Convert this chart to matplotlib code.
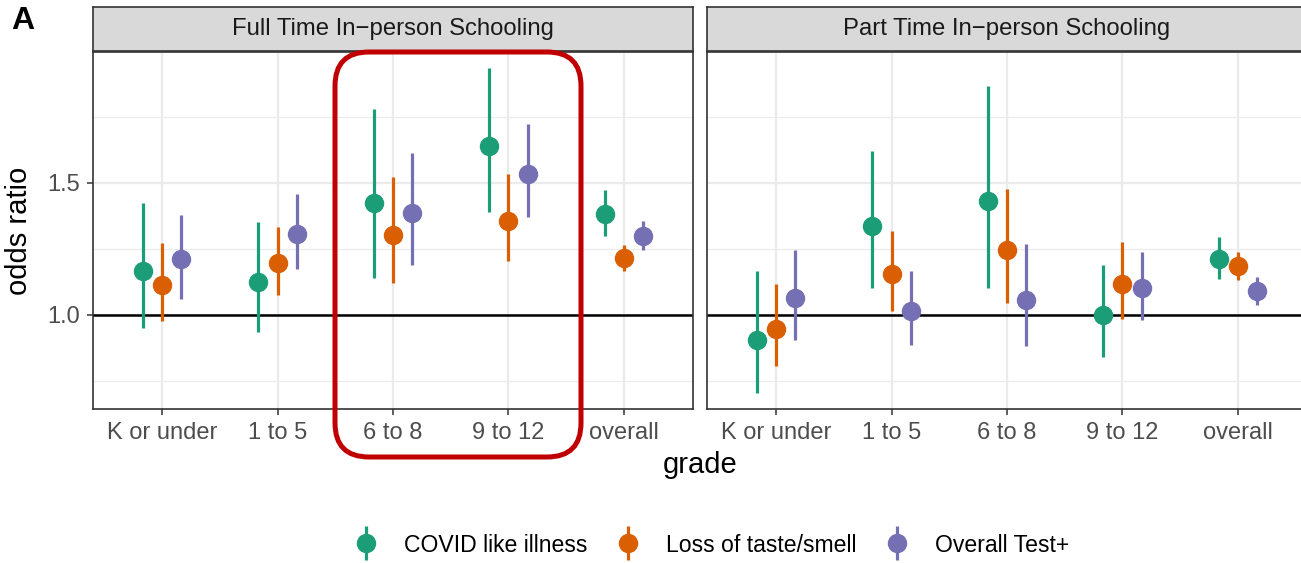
import numpy as np
import matplotlib.pyplot as plt
from matplotlib.patches import FancyBboxPatch
from matplotlib.container import ErrorbarContainer
from matplotlib.legend_handler import HandlerErrorbar

plt.rcParams['font.family'] = ['Liberation Sans', 'DejaVu Sans']

grades = ["K or under", "1 to 5", "6 to 8", "9 to 12", "overall"]
outcomes = ["COVID like illness", "Loss of taste/smell", "Overall Test+"]
panels = ["Full Time In\u2212person Schooling", "Part Time In\u2212person Schooling"]
colors = ["#1B9E77", "#D95F02", "#7570B3"]

# rows = outcome, cols = grade
full_or = [[1.164, 1.122, 1.425, 1.641, 1.383],
           [1.114, 1.196, 1.303, 1.356, 1.215],
           [1.211, 1.307, 1.385, 1.535, 1.299]]
full_lo = [[0.950, 0.933, 1.138, 1.391, 1.297],
           [0.975, 1.073, 1.120, 1.202, 1.164],
           [1.061, 1.173, 1.187, 1.369, 1.244]]
full_hi = [[1.423, 1.350, 1.780, 1.934, 1.471],
           [1.272, 1.331, 1.522, 1.533, 1.265],
           [1.379, 1.458, 1.612, 1.722, 1.354]]

part_or = [[0.902, 1.337, 1.432, 0.997, 1.211],
           [0.946, 1.155, 1.244, 1.117, 1.183],
           [1.062, 1.013, 1.057, 1.100, 1.088]]
part_lo = [[0.703, 1.101, 1.101, 0.840, 1.135],
           [0.804, 1.013, 1.044, 0.984, 1.130],
           [0.905, 0.884, 0.880, 0.979, 1.035]]
part_hi = [[1.164, 1.622, 1.867, 1.189, 1.294],
           [1.117, 1.319, 1.476, 1.274, 1.237],
           [1.246, 1.164, 1.268, 1.236, 1.141]]

W, H = 1301, 563
fig = plt.figure(figsize=(W / 100, H / 100), dpi=100)


def px_axes(x0, y0, x1, y1):
    return fig.add_axes([x0 / W, 1 - y1 / H, (x1 - x0) / W, (y1 - y0) / H])


def draw_panel(ax, vals, los, his, show_y):
    x = np.arange(1, len(grades) + 1)
    handles = []
    for k, (v, lo, hi) in enumerate(zip(vals, los, his)):
        v, lo, hi = np.array(v), np.array(lo), np.array(hi)
        xs = x + (k - 1) / 6
        h = ax.errorbar(xs, v, yerr=[v - lo, hi - v], fmt='o', color=colors[k],
                        ms=13, elinewidth=2.3, capsize=0, zorder=3)
        handles.append(h)
    ax.axhline(1.0, color='black', lw=1.8, zorder=2)
    ax.set_xlim(0.4, 5.6)
    ax.set_ylim(0.642, 1.996)
    ax.set_xticks(x)
    ax.set_xticklabels(grades)
    ax.set_yticks([1.0, 1.5])
    ax.set_yticks([0.75, 1.25, 1.75], minor=True)
    ax.set_yticklabels(["1.0", "1.5"])
    ax.grid(True, which='major', color='#EBEBEB', lw=1.6, zorder=0)
    ax.grid(True, which='minor', axis='y', color='#EBEBEB', lw=0.9, zorder=0)
    ax.set_axisbelow(True)
    ax.tick_params(axis='both', which='major', length=4.5, width=1.1, color='#333333',
                   labelsize=17, labelcolor='#4D4D4D', pad=5)
    ax.tick_params(axis='y', which='minor', length=0)
    if not show_y:
        ax.tick_params(axis='y', which='major', left=False, labelleft=False)
    for s in ax.spines.values():
        s.set_color('#333333')
        s.set_linewidth(1.2)
    return handles


def draw_strip(sax, label):
    sax.set_facecolor('#D9D9D9')
    sax.set_xticks([])
    sax.set_yticks([])
    for s in sax.spines.values():
        s.set_color('#333333')
        s.set_linewidth(1.2)
    sax.text(0.5, 0.5, label, ha='center', va='center', fontsize=17.2,
             color='#1A1A1A', transform=sax.transAxes)


ax1 = px_axes(93, 52, 693, 409)
ax2 = px_axes(707, 52, 1307, 409)
handles = draw_panel(ax1, full_or, full_lo, full_hi, True)
draw_panel(ax2, part_or, part_lo, part_hi, False)
draw_strip(px_axes(93, 7, 693, 51), panels[0])
draw_strip(px_axes(707, 7, 1307, 51), panels[1])

ax1.set_ylabel("odds ratio", fontsize=21, labelpad=10)
fig.text(700 / W, 1 - 465 / H, "grade", ha='center', va='center', fontsize=21)
fig.text(11 / W, 1 - 21 / H, "A", ha='left', va='center', fontsize=23, fontweight='bold')

fig.legend(handles, outcomes, loc='center', bbox_to_anchor=(712 / W, 1 - 545 / H),
           ncol=3, frameon=False, fontsize=16.6, handlelength=1.0,
           handletextpad=1.15, columnspacing=1.25,
           handler_map={ErrorbarContainer: HandlerErrorbar(yerr_size=0.74)})

# red highlight box over the 6-12 grades of the first panel
over = fig.add_axes([0, 0, 1, 1], facecolor='none')
over.set_xlim(0, W)
over.set_ylim(H, 0)
over.axis('off')
over.add_patch(FancyBboxPatch((335, 52), 246, 405,
                              boxstyle="round,pad=0,rounding_size=34",
                              fill=False, ec='#C00000', lw=3.6))

fig.savefig("out.png", dpi=100)
